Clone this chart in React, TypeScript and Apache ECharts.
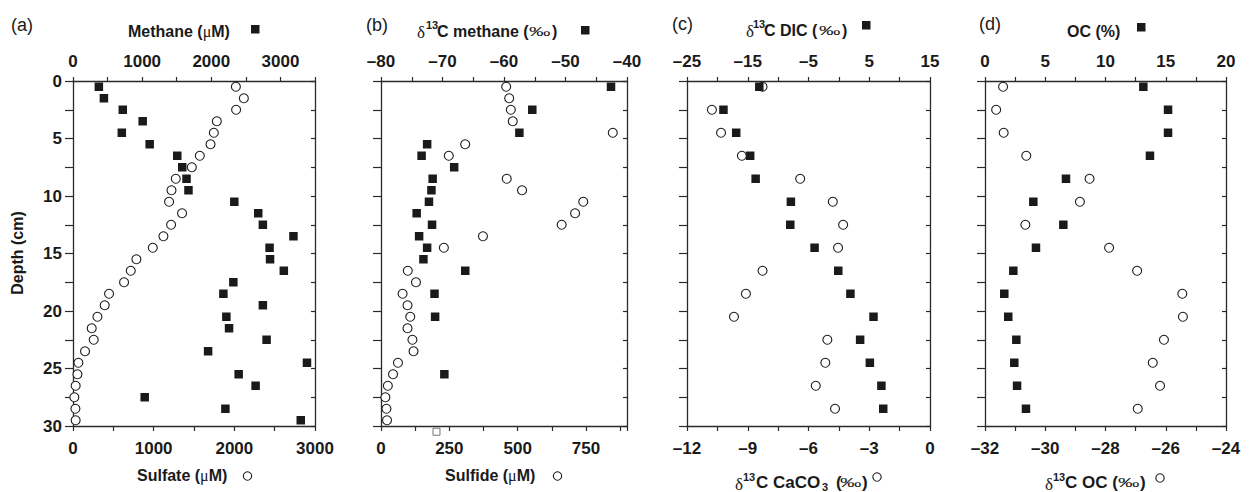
import React, { useEffect, useRef } from "react";
import * as echarts from "echarts";

// ---------- data ----------
const depthA = [0.5, 1.5, 2.5, 3.5, 4.5, 5.5, 6.5, 7.5, 8.5, 9.5, 10.5, 11.5, 12.5, 13.5, 14.5, 15.5, 16.5, 17.5, 18.5, 19.5, 20.5, 21.5, 22.5, 23.5, 24.5, 25.5, 26.5, 27.5, 28.5, 29.5];
const methane = [374, 447, 720, 1008, 706, 1109, 1508, 1580, 1642, 1670, 2333, 2679, 2746, 3188, 2843, 2850, 3049, 2319, 2175, 2746, 2218, 2257, 2800, 1954, 3384, 2396, 2641, 1037, 2204, 3294];
const sulfate = [2019, 2118, 2022, 1783, 1746, 1705, 1572, 1473, 1274, 1221, 1191, 1352, 1216, 1121, 989, 786, 716, 633, 447, 393, 303, 232, 257, 149, 67, 55, 33, 17, 30, 33];

const depthBMethane = [0.5, 2.5, 4.5, 5.5, 6.5, 7.5, 8.5, 9.5, 10.5, 11.5, 12.5, 13.5, 14.5, 15.5, 16.5, 18.5, 20.5, 25.5];
const d13cMethane = [-42.6, -55.4, -57.5, -72.5, -73.4, -68.1, -71.6, -71.8, -72.2, -74.2, -71.7, -73.8, -72.5, -73.1, -66.3, -71.3, -71.2, -69.7];
const depthBSulfide = [0.5, 1.5, 2.5, 3.5, 4.5, 5.5, 6.5, 8.5, 9.5, 10.5, 11.5, 12.5, 13.5, 14.5, 16.5, 17.5, 18.5, 19.5, 20.5, 21.5, 22.5, 23.5, 24.5, 25.5, 26.5, 27.5, 28.5, 29.5];
const sulfide = [458, 469, 475, 482, 848, 308, 248, 460, 516, 740, 710, 661, 373, 230, 98, 128, 79, 97, 107, 97, 115, 119, 62, 44, 25, 16, 20, 22];
const sulfideExtraDepth = [30.5];
const sulfideExtra = [203];

const depthCD = [0.5, 2.5, 4.5, 6.5, 8.5, 10.5, 12.5, 14.5, 16.5, 18.5, 20.5, 22.5, 24.5, 26.5, 28.5];
const d13cDIC = [-13.1, -19.0, -16.9, -14.6, -13.7, -7.9, -8.0, -4.0, -0.1, 1.9, 5.7, 3.5, 5.1, 7.0, 7.3];
const d13cCaCO3 = [-8.27, -10.77, -10.32, -9.29, -6.41, -4.8, -4.29, -4.54, -8.27, -9.09, -9.68, -5.07, -5.17, -5.64, -4.69];
const ocPercent = [13.14, 15.19, 15.19, 13.69, 6.72, 4.01, 6.5, 4.23, 2.35, 1.6, 1.93, 2.6, 2.43, 2.66, 3.4];
const d13cOC = [-31.4, -31.63, -31.38, -30.63, -28.53, -28.85, -30.66, -27.88, -26.95, -25.45, -25.43, -26.06, -26.43, -26.19, -26.93];

// ---------- styling ----------
const FONT = "'Liberation Sans', Arial, Helvetica, sans-serif";
const SERIF = "'Liberation Serif', 'DejaVu Serif', serif";
const INK = "#1a1a1a";
const LINE = "#2a2a2a";

const grids = [
  { left: 73, top: 81, width: 242, height: 345 },
  { left: 381, top: 81, width: 246, height: 345 },
  { left: 687, top: 81, width: 243, height: 345 },
  { left: 985, top: 81, width: 241, height: 345 },
];

const fmtNum = (v: number) => (v < 0 ? "\u2013" + Math.abs(v) : String(v));
const isStep = (v: number, base: number, step: number) => {
  const k = (v - base) / step;
  return Math.abs(k - Math.round(k)) < 1e-6;
};

function xAxis(grid: number, position: "top" | "bottom", min: number, max: number, interval: number, base: number, step: number, maxLabel?: number) {
  return {
    type: "value",
    gridIndex: grid,
    position,
    min,
    max,
    interval,
    axisLine: { show: true, onZero: false, lineStyle: { color: LINE, width: 1.3 } },
    axisTick: { show: true, inside: false, length: position === "top" ? 4 : 5, lineStyle: { color: LINE, width: 1.2 } },
    splitLine: { show: false },
    axisLabel: {
      margin: position === "top" ? 11 : 14,
      color: INK,
      fontFamily: FONT,
      fontWeight: "bold",
      fontSize: 17,
      formatter: (v: number) => (isStep(v, base, step) && (maxLabel === undefined || v <= maxLabel) ? fmtNum(v) : ""),
    },
  };
}

function yAxis(grid: number, position: "left" | "right", showLabels: boolean) {
  return {
    type: "value",
    gridIndex: grid,
    position,
    inverse: true,
    min: 0,
    max: 30,
    interval: 2.5,
    axisLine: { show: true, onZero: false, lineStyle: { color: LINE, width: 1.3 } },
    axisTick: { show: true, inside: position === "right", length: position === "right" ? 4 : 8, lineStyle: { color: LINE, width: 1.2 } },
    splitLine: { show: false },
    axisLabel: {
      show: showLabels,
      margin: 11,
      color: INK,
      fontFamily: FONT,
      fontWeight: "bold",
      fontSize: 17,
      formatter: (v: number) => (isStep(v, 0, 5) ? String(v) : ""),
    },
  };
}

const pts = (xs: number[], ys: number[]) => xs.map((x, i) => [x, ys[i]]);

const circleSeries = (name: string, xi: number, yi: number, data: number[][]) => ({
  name,
  type: "scatter",
  xAxisIndex: xi,
  yAxisIndex: yi,
  symbol: "circle",
  symbolSize: 9,
  itemStyle: { color: "#ffffff", borderColor: INK, borderWidth: 1.1, opacity: 1 },
  data,
  z: 2,
});
const squareSeries = (name: string, xi: number, yi: number, data: number[][]) => ({
  name,
  type: "scatter",
  xAxisIndex: xi,
  yAxisIndex: yi,
  symbol: "rect",
  symbolSize: 8.5,
  itemStyle: { color: INK, opacity: 1 },
  data,
  z: 3,
});

function txt(x: number, y: number, text: string, opts: any = {}) {
  return {
    type: "text",
    x,
    y,
    silent: true,
    scaleX: opts.scaleX || 1,
    rotation: opts.rotation || 0,
    style: {
      text,
      fill: INK,
      fontFamily: opts.fontFamily || FONT,
      fontWeight: opts.fontWeight || "bold",
      fontSize: opts.fontSize || 16,
      align: opts.align || "left",
      verticalAlign: "middle",
      rich: opts.rich,
    },
  };
}
const square = (x: number, y: number) => ({ type: "rect", silent: true, shape: { x, y, width: 8.5, height: 8.5 }, style: { fill: INK } });
const ring = (cx: number, cy: number) => ({ type: "circle", silent: true, shape: { cx, cy, r: 4.2 }, style: { fill: "#fff", stroke: INK, lineWidth: 1.1 } });
const permil = (x: number, y: number) => txt(x, y, "\u2030", { fontWeight: "normal", fontSize: 13, scaleX: 1.65 });
const delta = (x: number, y: number) => txt(x, y, "\u03b4", { fontFamily: SERIF, fontWeight: "normal", fontSize: 17 });
const sup = (x: number, y: number, t: string) => txt(x, y, t, { fontSize: 11 });

const richMu = {
  b: { fontFamily: FONT, fontWeight: "bold", fontSize: 16, fill: INK },
  m: { fontFamily: SERIF, fontWeight: "normal", fontSize: 16, fill: INK },
};

const graphicElements = [
  // panel labels
  txt(11, 25, "(a)", { fontWeight: "normal", fontSize: 18 }),
  txt(366, 25, "(b)", { fontWeight: "normal", fontSize: 18 }),
  txt(672, 24, "(c)", { fontWeight: "normal", fontSize: 18 }),
  txt(979, 24, "(d)", { fontWeight: "normal", fontSize: 18 }),
  // (a) titles
  txt(128, 31, "{b|Methane (}{m|\u03bc}{b|M)}", { rich: richMu }),
  square(251, 25),
  txt(137, 475, "{b|Sulfate (}{m|\u03bc}{b|M)}", { rich: richMu }),
  ring(247.5, 476),
  // (b) titles
  delta(417, 32),
  sup(426, 25, "13"),
  txt(437, 31, "C methane (", {}),
  permil(529, 32),
  txt(552, 31, ")", {}),
  square(581, 26),
  txt(445, 475, "{b|Sulfide (}{m|\u03bc}{b|M)}", { rich: richMu }),
  ring(557.5, 476),
  // (c) titles
  delta(746, 31),
  sup(753, 24, "13"),
  txt(764, 30, "C DIC (", {}),
  permil(819, 31),
  txt(842, 30, ")", {}),
  square(862, 21),
  delta(735, 484),
  sup(743, 477, "13"),
  txt(756, 482, "C CaCO", { fontSize: 17 }),
  sup(822, 487, "3"),
  txt(836, 482, "(", { fontSize: 17 }),
  permil(840, 483),
  txt(862, 482, ")", { fontSize: 17 }),
  ring(877, 477),
  // (d) titles
  txt(1067, 31, "OC (%)", {}),
  square(1137, 23),
  delta(1045, 484),
  sup(1053, 477, "13"),
  txt(1065, 482, "C OC (", { fontSize: 17 }),
  permil(1118, 483),
  txt(1140, 482, ")", { fontSize: 17 }),
  ring(1160, 478),
  // depth title
  txt(17, 253, "Depth (cm)", { align: "center", rotation: Math.PI / 2 }),
];

export default function App() {
  const ref = useRef<HTMLDivElement>(null);
  useEffect(() => {
    if (!ref.current) return;
    const chart = echarts.init(ref.current, undefined, { renderer: "svg" });
    chart.setOption({
      animation: false,
      backgroundColor: "#ffffff",
      grid: grids.map((g) => ({ ...g, containLabel: false })),
      xAxis: [
        xAxis(0, "top", 0, 3500, 500, 0, 1000),
        xAxis(0, "bottom", 0, 3000, 500, 0, 1000),
        xAxis(1, "top", -80, -40, 5, -80, 10),
        xAxis(1, "bottom", 0, 900, 125, 0, 250, 750),
        xAxis(2, "top", -25, 15, 5, -25, 10),
        xAxis(2, "bottom", -12, 0, 1.5, -12, 3),
        xAxis(3, "top", 0, 20, 2.5, 0, 5),
        xAxis(3, "bottom", -32, -24, 1, -32, 2),
      ],
      yAxis: [
        yAxis(0, "left", true),
        yAxis(0, "right", false),
        yAxis(1, "left", false),
        yAxis(1, "right", false),
        yAxis(2, "left", false),
        yAxis(2, "right", false),
        yAxis(3, "left", false),
        yAxis(3, "right", false),
      ],
      series: [
        circleSeries("Sulfate", 1, 0, pts(sulfate, depthA)),
        squareSeries("Methane", 0, 0, pts(methane, depthA)),
        circleSeries("Sulfide", 3, 2, pts(sulfide, depthBSulfide)),
        squareSeries("d13C methane", 2, 2, pts(d13cMethane, depthBMethane)),
        {
          name: "Sulfide (extra)",
          type: "scatter",
          xAxisIndex: 3,
          yAxisIndex: 2,
          symbol: "rect",
          symbolSize: 7,
          clip: false,
          itemStyle: { color: "#ffffff", borderColor: "#555", borderWidth: 1 },
          data: pts(sulfideExtra, sulfideExtraDepth),
          z: 4,
        },
        circleSeries("d13C CaCO3", 5, 4, pts(d13cCaCO3, depthCD)),
        squareSeries("d13C DIC", 4, 4, pts(d13cDIC, depthCD)),
        circleSeries("d13C OC", 7, 6, pts(d13cOC, depthCD)),
        squareSeries("OC", 6, 6, pts(ocPercent, depthCD)),
      ],
      graphic: { elements: graphicElements },
    });
    return () => chart.dispose();
  }, []);
  return <div ref={ref} style={{ position: "fixed", left: 0, top: 0, width: 1250, height: 492 }} />;
}
